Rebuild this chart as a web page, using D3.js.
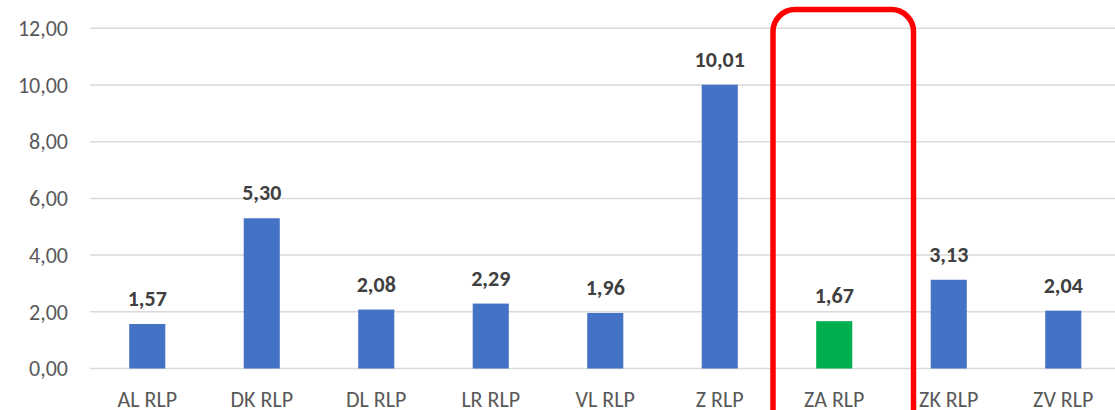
<!DOCTYPE html>
<html>
<head>
<meta charset="utf-8">
<script src="https://cdn.jsdelivr.net/npm/d3@7"></script>
<style>
  body { margin: 0; background: #fff; }
  svg { display: block; font-family: Carlito, Lato, "Open Sans", sans-serif; }
</style>
</head>
<body>
<div id="graph"></div>
<script>
// data
var categories = ["AL RLP", "DK RLP", "DL RLP", "LR RLP", "VL RLP", "Z RLP", "ZA RLP", "ZK RLP", "ZV RLP"];
var values = [1.57, 5.30, 2.08, 2.29, 1.96, 10.01, 1.67, 3.13, 2.04];
var yTicks = [0, 2, 4, 6, 8, 10, 12];
var highlighted = "ZA RLP";

var width = 1115, height = 410;
var left = 90, right = 1120.5;

var svg = d3.select("#graph").append("svg")
  .attr("width", width).attr("height", height);

var x = d3.scaleBand().domain(categories).range([left, right]).padding(0);
var y = d3.scaleLinear().domain([0, 12]).range([368.5, 28.3]);
var barW = x.bandwidth() * 0.315;

// gridlines
svg.append("g").selectAll("line").data(yTicks).enter().append("line")
  .attr("x1", left).attr("x2", width)
  .attr("y1", function(d){ return y(d); })
  .attr("y2", function(d){ return y(d); })
  .attr("stroke", "#d9d9d9").attr("stroke-width", 1.5);

// y tick labels
var fmt = function(d){ return d.toFixed(2).replace(".", ","); };
svg.append("g").selectAll("text").data(yTicks).enter().append("text")
  .text(fmt)
  .attr("x", 68).attr("y", function(d){ return y(d); })
  .attr("dy", "0.35em")
  .attr("text-anchor", "end")
  .attr("font-size", 22).attr("fill", "#595959");

var data = categories.map(function(c, i){ return { name: c, value: values[i] }; });

// bars
svg.append("g").selectAll("rect").data(data).enter().append("rect")
  .attr("x", function(d){ return x(d.name) + x.bandwidth()/2 - barW/2; })
  .attr("y", function(d){ return y(d.value); })
  .attr("width", barW)
  .attr("height", function(d){ return y(0) - y(d.value); })
  .attr("fill", function(d){ return d.name == highlighted ? "#00b050" : "#4472c4"; });

// value labels
svg.append("g").selectAll("text").data(data).enter().append("text")
  .text(function(d){ return fmt(d.value); })
  .attr("x", function(d){ return x(d.name) + x.bandwidth()/2; })
  .attr("y", function(d){ return y(d.value) - 18; })
  .attr("text-anchor", "middle")
  .attr("font-size", 22).attr("font-weight", "bold").attr("fill", "#404040");

// category labels
svg.append("g").selectAll("text").data(categories).enter().append("text")
  .text(function(d){ return d; })
  .attr("x", function(d){ return x(d) + x.bandwidth()/2; })
  .attr("y", 407)
  .attr("text-anchor", "middle")
  .attr("font-size", 22).attr("fill", "#595959");

// red frame around the highlighted category
svg.append("rect")
  .attr("x", x(highlighted) - 4)
  .attr("y", 9.5)
  .attr("width", x.bandwidth() + 26)
  .attr("height", 440)
  .attr("rx", 22).attr("ry", 22)
  .attr("fill", "none")
  .attr("stroke", "#ff0000").attr("stroke-width", 5.5);
</script>
</body>
</html>
